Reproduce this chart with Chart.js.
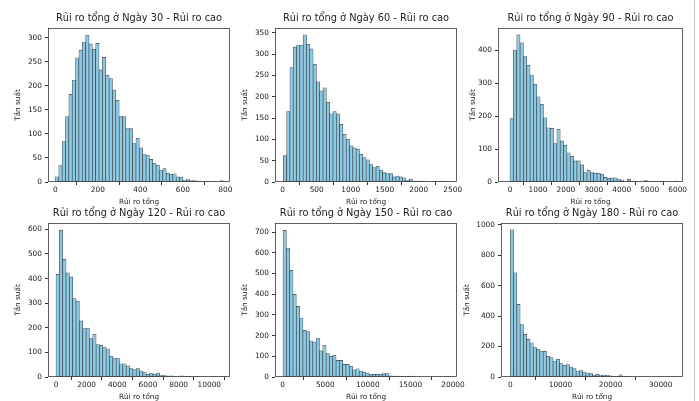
<!DOCTYPE html>
<html><head><meta charset="utf-8">
<script src="https://cdn.jsdelivr.net/npm/chart.js@4/dist/chart.umd.min.js"></script>
<style>
html,body{margin:0;padding:0;background:#fff;width:699px;height:401px;overflow:hidden;position:relative}
canvas{position:absolute}
#edge{position:absolute;left:694px;top:0;width:1px;height:401px;background:#c8c8c8}
</style></head><body>
<div id="edge"></div>
<script>
// ---------- DATA ----------
const panelTitles = [
  "Rủi ro tổng ở Ngày 30 - Rủi ro cao",
  "Rủi ro tổng ở Ngày 60 - Rủi ro cao",
  "Rủi ro tổng ở Ngày 90 - Rủi ro cao",
  "Rủi ro tổng ở Ngày 120 - Rủi ro cao",
  "Rủi ro tổng ở Ngày 150 - Rủi ro cao",
  "Rủi ro tổng ở Ngày 180 - Rủi ro cao"
];
const xAxisLabel = "Rủi ro tổng";
const yAxisLabel = "Tần suất";

// histogram bin start and bin width per panel (value units)
const binStarts = [0, 9, 0, 0, 40, 0];
const binWidths = [15.8, 48.7, 119.8, 218, 389, 656];

const counts30 = [11,34,84,136,182,212,258,274,291,305,287,276,288,233,259,222,215,191,170,136,136,111,111,80,91,71,57,56,47,39,35,25,28,18,16,17,11,10,4,5,3,3,2,2,1,2,0,1,0,3];
const counts60 = [62,165,268,316,321,321,345,323,312,276,235,214,221,187,160,165,160,135,112,100,85,80,77,65,57,52,41,34,37,28,22,20,20,12,14,12,10,4,7,2,2,2,2,0,0,2,1,2,1,0];
const counts90 = [193,401,447,423,381,355,325,297,259,236,195,165,163,117,160,125,112,89,78,64,64,52,29,36,29,27,27,24,14,11,13,13,9,6,1,8,3,3,2,0,5,2,1,0,2,1,0,0,0,3];
const counts120 = [417,597,478,423,407,319,308,228,197,199,156,174,132,129,122,115,84,77,77,54,54,45,34,30,34,24,20,11,16,11,16,8,8,4,5,3,0,5,4,1,1,0,1,0,0,0,0,1,0,1];
const counts150 = [708,623,515,399,341,285,225,220,174,169,188,126,153,113,100,105,80,80,61,61,52,35,40,29,24,19,13,13,13,13,16,16,6,5,5,3,2,3,5,1,0,0,0,0,0,0,0,0,0,1];
const counts180 = [967,685,477,344,280,247,225,193,182,171,168,136,127,105,116,88,77,81,66,55,39,42,33,22,26,11,17,11,13,11,7,4,4,15,4,1,0,0,0,0,0,0,0,0,0,0,0,0,0,1];

const xTicks30 = [0,200,400,600,800];
const xTicks60 = [0,500,1000,1500,2000,2500];
const xTicks90 = [0,1000,2000,3000,4000,5000,6000];
const xTicks120 = [0,2000,4000,6000,8000,10000];
const xTicks150 = [0,5000,10000,15000,20000];
const xTicks180 = [0,10000,20000,30000];

const yTicks30 = [0,50,100,150,200,250,300];
const yTicks60 = [0,50,100,150,200,250,300,350];
const yTicks90 = [0,100,200,300,400];
const yTicks120 = [0,100,200,300,400,500,600];
const yTicks150 = [0,100,200,300,400,500,600,700];
const yTicks180 = [0,200,400,600,800,1000];

const allCounts = [counts30,counts60,counts90,counts120,counts150,counts180];
const allXTicks = [xTicks30,xTicks60,xTicks90,xTicks120,xTicks150,xTicks180];
const allYTicks = [yTicks30,yTicks60,yTicks90,yTicks120,yTicks150,yTicks180];

// ---------- LAYOUT (pixels / view limits) ----------
const boxes = [
  {L:48, T:28, R:230, B:182, xmin:-35,  xmax:822,   ymax:320,  yl:29.5},
  {L:275,T:28, R:457, B:182, xmin:-113, xmax:2563,  ymax:361,  yl:30},
  {L:498,T:28, R:683, B:182, xmin:-430, xmax:6192,  ymax:468,  yl:25.3},
  {L:48, T:223,R:230, B:377, xmin:-522, xmax:11350, ymax:626,  yl:29.7},
  {L:275,T:223,R:457, B:377, xmin:-906, xmax:20470, ymax:744,  yl:30},
  {L:501,T:223,R:683, B:377, xmin:-1848,xmax:34432, ymax:1012, yl:34}
];
const PADL = 48, PADR = 48, TITLEH = 30, XAXH = 26;
const FONT = "'DejaVu Sans', sans-serif";

const boxPlugin = {
  id: 'box',
  afterDatasetsDraw(chart) {
    const {ctx, chartArea: a} = chart;
    ctx.save();
    ctx.strokeStyle = '#3a3a3a';
    ctx.lineWidth = 0.8;
    ctx.strokeRect(Math.round(a.left) + 0.5, Math.round(a.top) + 0.5,
                   Math.round(a.right - a.left) - 1, Math.round(a.bottom - a.top) - 1);
    ctx.restore();
  }
};

boxes.forEach((b, i) => {
  const cv = document.createElement('canvas');
  const w = (b.R - b.L) + PADL + PADR;
  const h = (b.B - b.T) + TITLEH + XAXH;
  cv.width = w; cv.height = h;
  cv.style.left = (b.L - PADL) + 'px';
  cv.style.top = (b.T - TITLEH) + 'px';
  cv.style.width = w + 'px'; cv.style.height = h + 'px';
  document.body.appendChild(cv);

  const counts = allCounts[i];
  const pts = counts.map((c, k) => ({x: binStarts[i] + (k + 0.5) * binWidths[i], y: c}));
  const xt = allXTicks[i], yt = allYTicks[i];
  const tfs = 9.8, lfs = 7.3, kfs = 7.4;

  new Chart(cv, {
    type: 'bar',
    data: { datasets: [{
      data: pts,
      backgroundColor: 'rgba(135,200,228,0.92)',
      borderColor: 'rgba(30,30,30,0.8)',
      borderWidth: 0.6,
      borderSkipped: false,
      barPercentage: 1, categoryPercentage: 1, grouped: false
    }]},
    options: {
      responsive: false, animation: false, devicePixelRatio: 1,
      layout: { padding: {left: 0, right: PADR, top: 0, bottom: 0} },
      plugins: {
        legend: {display: false}, tooltip: {enabled: false},
        title: {
          display: true, text: panelTitles[i], fullSize: false,
          color: '#222', font: {family: FONT, size: tfs, weight: 'normal', lineHeight: 1.2},
          padding: {top: TITLEH - tfs*1.2 - 3.2, bottom: 3.2}
        }
      },
      scales: {
        x: {
          type: 'linear', min: b.xmin, max: b.xmax, offset: false,
          afterFit: s => { s.height = XAXH; },
          afterBuildTicks: s => { s.ticks = xt.map(v => ({value: v})); },
          grid: {display: true, drawOnChartArea: false, drawTicks: true, tickLength: 3, color: '#333'},
          border: {display: false},
          ticks: {font: {family: FONT, size: kfs}, color: '#222', padding: 1, maxRotation: 0, autoSkip: false,
                  callback: v => String(v)},
          title: {display: true, text: xAxisLabel, color: '#222',
                  font: {family: FONT, size: lfs, lineHeight: 1.2}, padding: {top: 0, bottom: 2}}
        },
        y: {
          min: 0, max: b.ymax,
          afterFit: s => { s.width = PADL; },
          afterBuildTicks: s => { s.ticks = yt.map(v => ({value: v})); },
          grid: {display: true, drawOnChartArea: false, drawTicks: true, tickLength: 3, color: '#333'},
          border: {display: false},
          ticks: {font: {family: FONT, size: kfs}, color: '#222', padding: 3, autoSkip: false,
                  callback: v => String(v)},
          title: {display: true, text: yAxisLabel, color: '#222',
                  font: {family: FONT, size: lfs, lineHeight: 1.2},
                  padding: {top: PADL - b.yl - lfs*0.6, bottom: 0}}
        }
      }
    },
    plugins: [boxPlugin]
  });
});
</script>
</body></html>
